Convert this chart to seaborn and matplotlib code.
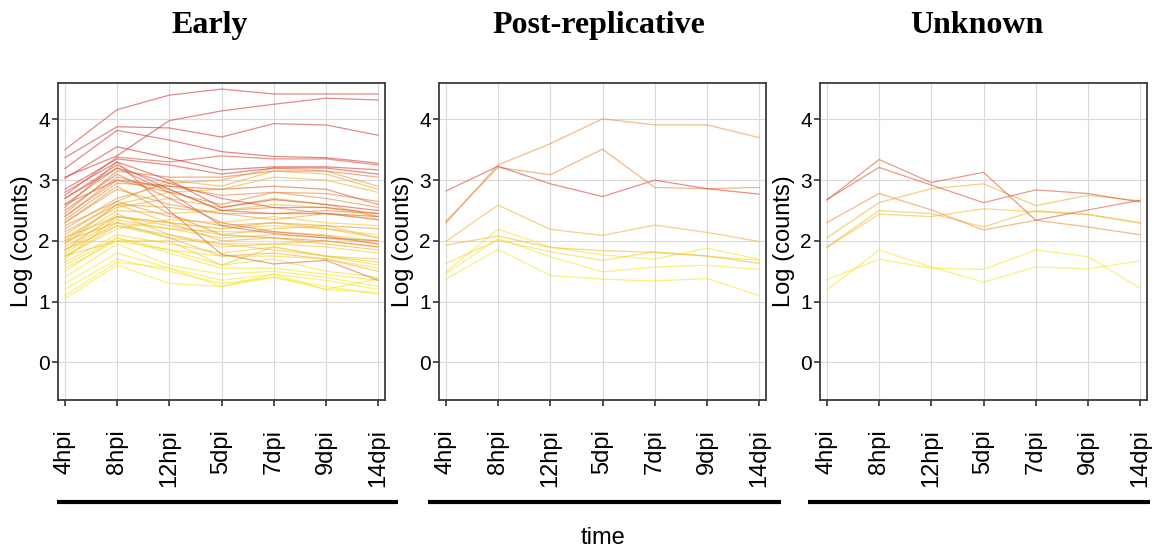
from __future__ import annotations

import matplotlib

matplotlib.use("Agg")
import matplotlib.pyplot as plt
import pandas as pd
import seaborn as sns
from matplotlib.colors import LinearSegmentedColormap
from matplotlib.lines import Line2D

TIMES = ["4hpi", "8hpi", "12hpi", "5dpi", "7dpi", "9dpi", "14dpi"]

# log counts per gene, one list per gene, values at TIMES
early_lines = [
    [3.50, 4.16, 4.40, 4.50, 4.42, 4.42, 4.42],
    [3.05, 3.40, 3.98, 4.14, 4.25, 4.35, 4.32],
    [3.37, 3.88, 3.86, 3.71, 3.93, 3.91, 3.74],
    [3.19, 3.82, 3.66, 3.47, 3.39, 3.37, 3.28],
    [3.03, 3.55, 3.36, 3.17, 3.22, 3.22, 3.17],
    [2.85, 3.35, 3.25, 3.10, 3.20, 3.20, 3.10],
    [2.80, 3.30, 3.00, 2.55, 2.68, 2.60, 2.50],
    [2.75, 3.38, 3.30, 3.40, 3.35, 3.35, 3.25],
    [2.70, 3.25, 2.85, 2.50, 2.45, 2.45, 2.40],
    [2.60, 3.20, 2.80, 2.25, 2.12, 2.05, 2.00],
    [2.50, 3.10, 2.70, 2.30, 2.15, 2.08, 1.95],
    [2.55, 3.30, 2.50, 1.78, 1.62, 1.68, 1.35],
    [2.40, 3.00, 2.80, 2.60, 2.80, 2.78, 2.65],
    [2.35, 2.95, 2.90, 2.75, 2.80, 2.70, 2.55],
    [2.30, 2.85, 2.60, 2.45, 2.45, 2.50, 2.45],
    [2.45, 3.15, 3.05, 3.05, 3.15, 3.15, 3.05],
    [2.20, 2.70, 2.95, 3.00, 3.20, 3.15, 2.90],
    [2.10, 2.65, 3.00, 2.90, 3.15, 3.10, 2.85],
    [2.00, 2.60, 2.80, 2.85, 3.05, 3.00, 2.80],
    [2.05, 2.55, 2.70, 2.55, 2.70, 2.60, 2.40],
    [1.95, 2.50, 2.45, 2.50, 2.60, 2.55, 2.40],
    [1.90, 2.40, 2.25, 2.10, 2.20, 2.25, 2.05],
    [1.85, 2.35, 2.20, 2.15, 2.15, 2.10, 2.00],
    [1.80, 2.30, 2.20, 2.05, 2.10, 2.05, 1.95],
    [1.75, 2.25, 2.05, 1.95, 1.95, 1.90, 1.80],
    [1.70, 2.40, 2.30, 2.20, 2.25, 2.20, 2.10],
    [1.95, 2.60, 2.30, 2.20, 2.30, 2.20, 2.05],
    [1.65, 2.10, 1.95, 1.80, 1.90, 1.75, 1.60],
    [1.60, 2.05, 1.85, 1.75, 1.75, 1.70, 1.55],
    [1.55, 2.00, 1.85, 1.60, 1.70, 1.50, 1.40],
    [1.50, 2.05, 1.80, 1.55, 1.55, 1.45, 1.35],
    [1.40, 1.95, 1.60, 1.45, 1.50, 1.40, 1.25],
    [1.30, 1.80, 1.55, 1.35, 1.45, 1.35, 1.20],
    [1.20, 1.70, 1.50, 1.30, 1.40, 1.20, 1.15],
    [1.05, 1.60, 1.30, 1.25, 1.40, 1.25, 1.12],
    [1.10, 1.65, 1.55, 1.25, 1.45, 1.20, 1.38],
    [1.75, 2.00, 2.00, 1.60, 1.90, 1.75, 1.65],
    [2.00, 2.30, 2.05, 1.75, 1.80, 1.70, 1.50],
    [1.85, 2.45, 2.10, 1.90, 1.95, 2.00, 1.90],
    [2.25, 2.65, 2.40, 2.25, 2.30, 2.25, 2.20],
    [2.15, 2.60, 2.55, 2.45, 2.35, 2.45, 2.35],
    [1.75, 2.20, 2.35, 2.30, 2.40, 2.30, 2.25],
    [2.70, 3.20, 2.95, 2.70, 2.55, 2.55, 2.45],
    [2.40, 3.05, 2.85, 2.50, 2.55, 2.45, 2.35],
    [2.30, 2.90, 2.45, 2.10, 2.05, 2.00, 1.90],
    [2.60, 3.00, 2.90, 2.85, 2.90, 2.85, 2.60],
    [1.85, 2.25, 2.10, 1.95, 1.85, 1.75, 1.70],
    [2.05, 2.40, 2.30, 2.00, 2.05, 1.95, 1.85],
]

post_lines = [
    [2.82, 3.23, 2.94, 2.73, 3.00, 2.86, 2.77],
    [2.29, 3.25, 3.60, 4.01, 3.91, 3.91, 3.70],
    [2.32, 3.21, 3.09, 3.51, 2.88, 2.86, 2.88],
    [1.99, 2.59, 2.19, 2.09, 2.26, 2.14, 1.99],
    [1.93, 2.08, 1.89, 1.84, 1.81, 1.75, 1.63],
    [1.63, 2.01, 1.82, 1.68, 1.82, 1.75, 1.68],
    [1.49, 2.19, 1.90, 1.77, 1.70, 1.88, 1.70],
    [1.46, 2.04, 1.74, 1.49, 1.57, 1.60, 1.53],
    [1.37, 1.86, 1.43, 1.37, 1.34, 1.38, 1.10],
]

unknown_lines = [
    [2.67, 3.34, 2.96, 3.13, 2.34, 2.51, 2.67],
    [2.68, 3.21, 2.92, 2.63, 2.84, 2.78, 2.64],
    [2.30, 2.78, 2.51, 2.18, 2.34, 2.23, 2.10],
    [2.05, 2.63, 2.86, 2.94, 2.58, 2.75, 2.66],
    [1.90, 2.50, 2.45, 2.23, 2.50, 2.43, 2.30],
    [1.89, 2.44, 2.40, 2.53, 2.48, 2.44, 2.29],
    [1.36, 1.70, 1.55, 1.53, 1.85, 1.74, 1.22],
    [1.19, 1.85, 1.57, 1.32, 1.57, 1.54, 1.67],
]

PANEL_TITLES = ["Early", "Post-replicative", "Unknown"]
PANEL_LINES = [early_lines, post_lines, unknown_lines]

W, H = 1161, 550


def to_frame(lines: list[list[float]]) -> pd.DataFrame:
    rows = []
    for gene, values in enumerate(lines):
        for t, v in zip(TIMES, values, strict=True):
            rows.append({"gene": gene, "time": t, "value": v, "start": values[0]})
    return pd.DataFrame(rows)


sns.set_theme(style="whitegrid")
plt.rcParams["font.family"] = ["Liberation Sans", "DejaVu Sans"]
plt.rcParams["text.color"] = "black"
plt.rcParams["axes.labelcolor"] = "black"

heat = LinearSegmentedColormap.from_list("heat", ["#f5e62a", "#eda23a", "#d23b3b"])

fig = plt.figure(figsize=(W / 100, H / 100), dpi=100)
lefts = [58, 439, 820]
title_x = [210, 599, 977]
bars = [(57, 398), (428, 781), (808, 1150)]

for left, title, tx, lines, (b0, b1) in zip(
    lefts, PANEL_TITLES, title_x, PANEL_LINES, bars, strict=True
):
    ax = fig.add_axes([left / W, 1 - 400 / H, 327 / W, 317 / H])
    df = to_frame(lines)
    sns.lineplot(
        data=df,
        x="time",
        y="value",
        hue="start",
        units="gene",
        estimator=None,
        palette=heat,
        hue_norm=(1.45, 2.9),
        linewidth=0.9,
        alpha=0.6,
        legend=False,
        sort=False,
        ax=ax,
    )
    ax.set_xlim(-0.13, 6.13)
    ax.set_ylim(-0.62, 4.6)
    ax.set_yticks([0, 1, 2, 3, 4])
    ax.set_xlabel("")
    ax.set_ylabel("Log (counts)", fontsize=17)
    ax.yaxis.set_label_coords(-0.075, 0.5)
    ax.set_facecolor("white")
    ax.grid(True, color="#dadada", linewidth=0.8)
    for sp in ax.spines.values():
        sp.set_visible(True)
        sp.set_color("#3a3a3a")
        sp.set_linewidth(1.3)
    ax.tick_params(
        axis="x", rotation=90, labelsize=17, pad=17, length=4,
        bottom=True, color="#3a3a3a", labelcolor="black",
    )
    ax.tick_params(
        axis="y", labelsize=15, pad=2, length=4,
        left=True, color="#3a3a3a", labelcolor="black",
    )
    fig.text(
        tx / W, 1 - 33 / H, title, ha="center", va="baseline", color="black",
        fontsize=23, fontweight="bold", family=["Liberation Serif", "DejaVu Serif"],
    )
    fig.add_artist(
        Line2D(
            [b0 / W, b1 / W], [1 - 502 / H, 1 - 502 / H],
            color="black", linewidth=3, solid_capstyle="butt",
        )
    )

fig.text(603 / W, 1 - 538 / H, "time", ha="center", va="center", fontsize=17, color="black")

fig.savefig("out.png", dpi=100)
